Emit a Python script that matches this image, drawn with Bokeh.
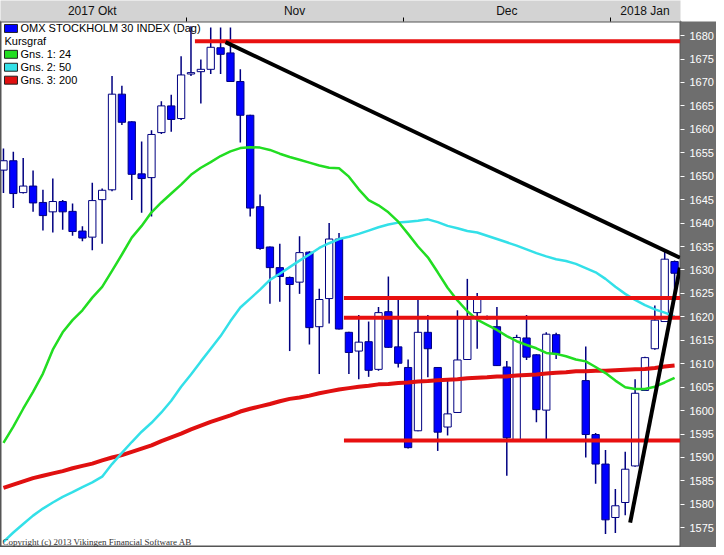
import pandas as pd
from bokeh.plotting import figure
from bokeh.models import Range1d, FixedTicker, Label, BoxAnnotation, ColumnDataSource
from bokeh.embed import file_html
from bokeh.resources import INLINE

# ---------------- data ----------------
oct_dec = list(pd.bdate_range("2017-10-05", "2017-12-29"))
jan = list(pd.to_datetime(["2018-01-02", "2018-01-03", "2018-01-04", "2018-01-05",
                           "2018-01-08", "2018-01-09", "2018-01-10"]))
dates = oct_dec + jan   # 69 weekday slots (Dec 25/26 closed)

opens = [1651.3, 1653.3, 1646.5, 1647.9, 1644.4, 1642.4, 1644.6, 1642.5, 1638.3, 1637.0,
         1645.0, 1647.1, 1667.5, 1661.6, 1650.5, 1649.7, 1659.3, 1665.0, 1662.3, 1671.8,
         1672.3, 1672.8, 1677.4, 1676.3, 1670.2, 1663.0, 1643.5, 1634.9, 1630.5, 1628.4,
         1627.4, 1633.8, 1617.9, 1623.9, 1636.6, 1616.7, 1612.7, 1614.7, 1608.8, 1621.1,
         1613.6, 1609.2, 1595.7, 1616.7, 1609.2, 1596.5, 1599.6, 1610.9, 1620.9, 1619.6,
         1617.9, 1609.3, 1593.8, 1615.5, 1611.9, 1600.1, 1616.2, None, None, 1606.4,
         1594.9, 1588.6, 1577.2, 1580.4, 1588.2, 1604.3, 1613.2, 1619.0, 1631.8]
highs = [1655.9, 1655.2, 1653.9, 1651.2, 1647.1, 1649.5, 1644.9, 1644.2, 1639.3, 1648.6,
         1647.4, 1671.4, 1669.3, 1661.7, 1657.4, 1659.8, 1666.0, 1667.4, 1675.6, 1682.0,
         1674.9, 1681.7, 1681.7, 1681.7, 1672.8, 1663.1, 1646.1, 1635.0, 1635.6, 1628.6,
         1637.2, 1634.0, 1626.0, 1640.0, 1637.9, 1616.8, 1620.4, 1619.0, 1622.1, 1628.6,
         1624.4, 1610.9, 1624.2, 1620.4, 1609.3, 1606.7, 1621.4, 1628.1, 1625.1, 1620.3,
         1622.1, 1610.6, 1616.2, 1620.4, 1612.0, 1616.7, 1616.6, None, None, 1613.7,
         1595.2, 1591.6, 1583.3, 1591.2, 1606.7, 1611.5, 1622.4, 1634.0, 1632.0]
lows = [1646.4, 1643.2, 1646.3, 1642.4, 1638.4, 1638.0, 1638.6, 1637.3, 1636.1, 1634.2,
        1635.6, 1646.8, 1660.9, 1644.9, 1642.2, 1641.4, 1659.0, 1659.5, 1662.0, 1671.4,
        1665.5, 1671.8, 1671.8, 1670.1, 1657.2, 1641.4, 1634.3, 1622.8, 1623.2, 1612.7,
        1624.9, 1614.1, 1607.8, 1618.6, 1617.3, 1607.8, 1606.7, 1607.2, 1608.5, 1613.4,
        1609.2, 1591.9, 1595.6, 1607.1, 1591.4, 1594.7, 1599.5, 1610.8, 1613.2, 1619.4,
        1609.5, 1586.1, 1593.7, 1610.8, 1597.5, 1593.7, 1611.0, None, None, 1590.0,
        1584.4, 1573.7, 1573.9, 1577.7, 1588.0, 1604.2, 1613.0, 1619.0, 1623.5]
closes = [1653.3, 1646.3, 1647.9, 1644.3, 1641.6, 1644.6, 1642.4, 1638.2, 1636.8, 1644.8,
          1647.0, 1667.5, 1661.5, 1650.4, 1649.5, 1658.9, 1665.0, 1662.1, 1671.6, 1672.1,
          1672.8, 1677.5, 1676.0, 1670.2, 1663.0, 1643.2, 1634.6, 1630.5, 1628.6, 1626.9,
          1633.7, 1617.7, 1623.7, 1636.6, 1617.4, 1612.4, 1614.6, 1608.6, 1620.9, 1613.5,
          1610.1, 1592.1, 1616.7, 1613.2, 1595.4, 1599.3, 1610.8, 1619.5, 1624.0, 1620.0,
          1609.6, 1594.2, 1615.6, 1611.4, 1600.2, 1616.3, 1612.2, None, None, 1594.9,
          1588.6, 1576.7, 1579.7, 1587.5, 1603.7, 1611.3, 1619.3, 1632.3, 1629.3]

ma24 = [1593.1, 1596.6, 1600.4, 1604.0, 1607.9, 1613.0, 1616.7, 1619.3, 1621.4, 1624.1,
        1626.4, 1629.8, 1633.3, 1636.9, 1639.4, 1642.3, 1644.4, 1646.3, 1648.2, 1650.3,
        1651.8, 1653.0, 1654.3, 1655.3, 1656.0, 1656.2, 1656.1, 1655.6, 1654.8, 1654.1,
        1653.5, 1652.9, 1652.3, 1651.8, 1651.7, 1649.9, 1647.2, 1644.9, 1643.8, 1642.3,
        1640.3, 1637.7, 1635.0, 1632.7, 1629.5, 1626.2, 1623.5, 1621.2, 1619.4, 1618.3,
        1617.2, 1615.9, 1614.8, 1614.0, 1613.3, 1612.3, 1612.1, 1611.6, 1610.9, 1610.5,
        1609.3, 1608.0, 1606.4, 1605.0, 1604.6, 1604.6, 1605.1, 1606.0, 1607.0]
ma50 = [1572.0, 1574.0, 1575.8, 1577.6, 1579.1, 1580.4, 1581.6, 1582.6, 1583.7, 1584.7,
        1585.9, 1588.6, 1591.0, 1593.3, 1595.5, 1597.4, 1599.6, 1602.1, 1605.1, 1607.7,
        1610.5, 1613.2, 1615.9, 1619.1, 1622.0, 1623.9, 1625.8, 1627.9, 1629.2, 1630.6,
        1632.0, 1633.3, 1634.7, 1635.7, 1636.6, 1637.1, 1637.7, 1638.4, 1639.1, 1639.7,
        1640.1, 1640.3, 1640.5, 1640.8, 1640.2, 1639.4, 1638.9, 1638.3, 1638.0, 1637.3,
        1636.6, 1635.9, 1635.2, 1634.4, 1633.6, 1632.9, 1632.3, 1631.9, 1631.3, 1630.4,
        1629.5, 1628.1, 1626.4, 1624.9, 1623.6, 1622.5, 1621.6, 1620.9, 1620.1]
ma200 = [1583.5, 1584.2, 1584.9, 1585.6, 1586.1, 1586.6, 1587.1, 1587.7, 1588.2, 1588.7,
         1589.4, 1590.0, 1590.5, 1591.2, 1591.9, 1592.6, 1593.5, 1594.3, 1595.1, 1596.0,
         1596.8, 1597.6, 1598.3, 1599.0, 1599.8, 1600.4, 1600.9, 1601.4, 1602.0, 1602.5,
         1602.8, 1603.2, 1603.7, 1604.1, 1604.5, 1604.8, 1605.1, 1605.3, 1605.6, 1605.7,
         1605.9, 1606.0, 1606.2, 1606.3, 1606.5, 1606.6, 1606.7, 1606.9, 1607.0, 1607.1,
         1607.3, 1607.3, 1607.5, 1607.6, 1607.7, 1607.9, 1608.1, 1608.2, 1608.4, 1608.4,
         1608.5, 1608.5, 1608.6, 1608.7, 1608.8, 1608.9, 1609.1, 1609.4, 1609.6]

# horizontal support / resistance levels: (value, start slot)
level_values = [1678.8, 1624.0, 1619.8, 1593.6]
level_starts = [19.4, 34.5, 34.5, 34.5]
# trend lines
trend_x0 = [22.5, 63.5]
trend_y0 = [1678.6, 1576.1]
trend_x1 = [68.55, 68.55]
trend_y1 = [1632.6, 1630.5]

month_names = ["2017 Okt", "Nov", "Dec", "2018 Jan"]
yticks = list(range(1575, 1685, 5))

legend_names = ["OMX STOCKHOLM 30 INDEX (Dag)", "Kursgraf", "Gns. 1: 24", "Gns. 2: 50", "Gns. 3: 200"]
legend_colors = ["#0000ff", None, "#22dd22", "#33e0e8", "#e01010"]

# ---------------- figure ----------------
W, H = 716, 547
RB, TB = 35, 18
x0r, x1r = -0.3, 68.6
y0r, y1r = 1570.8, 1683.0

p = figure(width=W, height=H, x_range=Range1d(x0r, x1r), y_range=Range1d(y0r, y1r),
           output_backend="svg", toolbar_location=None,
           x_axis_location="above", y_axis_location="right",
           min_border_left=0, min_border_bottom=0, min_border_top=TB, min_border_right=RB)
p.grid.visible = False
p.background_fill_color = "white"
p.border_fill_color = "white"
p.outline_line_color = "#555555"
p.outline_line_width = 2

idx = list(range(len(dates)))
cx, co, ch, cl, cc, fills, tops, bots = [], [], [], [], [], [], [], []
for i in idx:
    if opens[i] is None:
        continue
    cx.append(i); co.append(opens[i]); ch.append(highs[i]); cl.append(lows[i]); cc.append(closes[i])
    up = closes[i] >= opens[i]
    fills.append("white" if up else "#0000ff")
    tops.append(max(opens[i], closes[i])); bots.append(min(opens[i], closes[i]))
src = ColumnDataSource(dict(x=cx, o=co, h=ch, l=cl, c=cc, fill=fills, top=tops, bottom=bots))

p.segment(x0="x", y0="l", x1="x", y1="h", source=src, line_color="#000080", line_width=1.5)
p.vbar(x="x", width=0.74, top="top", bottom="bottom", source=src,
       fill_color="fill", line_color="#000080", line_width=1)

p.line(idx, ma200, line_color="#e01010", line_width=4)
p.line(idx, ma50, line_color="#33e0e8", line_width=2.5)
p.line(idx, ma24, line_color="#22dd22", line_width=2.5)

p.segment(x0=level_starts, x1=[x1r] * len(level_values), y0=level_values, y1=level_values,
          line_color="#e81010", line_width=4)
p.segment(x0=trend_x0, y0=trend_y0, x1=trend_x1, y1=trend_y1, line_color="black", line_width=4)

# ---------------- axes ----------------
months = [d.month for d in dates]
centers, bounds, overrides = [], [], {}
for mi, m in enumerate(sorted(set(months), key=lambda v: months.index(v))):
    slots = [i for i in idx if months[i] == m]
    c = (slots[0] + slots[-1]) / 2.0
    centers.append(c)
    overrides[c] = month_names[mi]
    if slots[0] > 0:
        bounds.append(slots[0] - 0.5)

xa = p.xaxis[0]
xa.ticker = FixedTicker(ticks=centers, minor_ticks=bounds)
xa.major_label_overrides = overrides
xa.major_tick_line_color = None
xa.major_tick_out = 0
xa.major_tick_in = 0
xa.minor_tick_line_color = "black"
xa.minor_tick_out = 4
xa.minor_tick_in = 0
xa.axis_line_color = None
xa.major_label_text_font = "Liberation Sans"
xa.major_label_text_font_size = "12px"
xa.major_label_text_color = "#111111"
xa.major_label_standoff = 0

ya = p.yaxis[0]
ya.ticker = FixedTicker(ticks=yticks)
ya.major_tick_line_color = "white"
ya.major_tick_out = 4
ya.major_tick_in = 0
ya.minor_tick_line_color = None
ya.axis_line_color = None
ya.major_label_text_color = "white"
ya.major_label_text_font = "Liberation Sans"
ya.major_label_text_font_size = "11px"
ya.major_label_standoff = 5

try:
    xa.background_fill_color = "#d3d3d3"
    ya.background_fill_color = "#6e6e6e"
except Exception:
    pass

# ---------------- legend / annotations ----------------
fw, fh = W - RB, H - TB
def dx(px):
    return x0r + px * (x1r - x0r) / fw
def dy(py):
    return y1r - py * (y1r - y0r) / fh

rows = [7, 20, 33, 46, 59]
for name, col, r in zip(legend_names, legend_colors, rows):
    if col is not None:
        p.add_layout(BoxAnnotation(left=dx(4), right=dx(17), top=dy(r - 4), bottom=dy(r + 4),
                                   fill_color=col, fill_alpha=1, line_color="#222222",
                                   line_width=1, line_alpha=1))
        tx = 20
    else:
        tx = 4
    p.add_layout(Label(x=dx(tx), y=dy(r), text=name, text_baseline="middle",
                       text_font="Liberation Sans", text_font_size="11px", text_color="black"))

p.add_layout(Label(x=dx(2), y=dy(fh - 6), text="Copyright (c) 2013 Vikingen Financial Software AB",
                   text_baseline="middle", text_font="Liberation Serif", text_font_size="9px",
                   text_color="#333333"))

open("out.html", "w").write(file_html(p, INLINE))
